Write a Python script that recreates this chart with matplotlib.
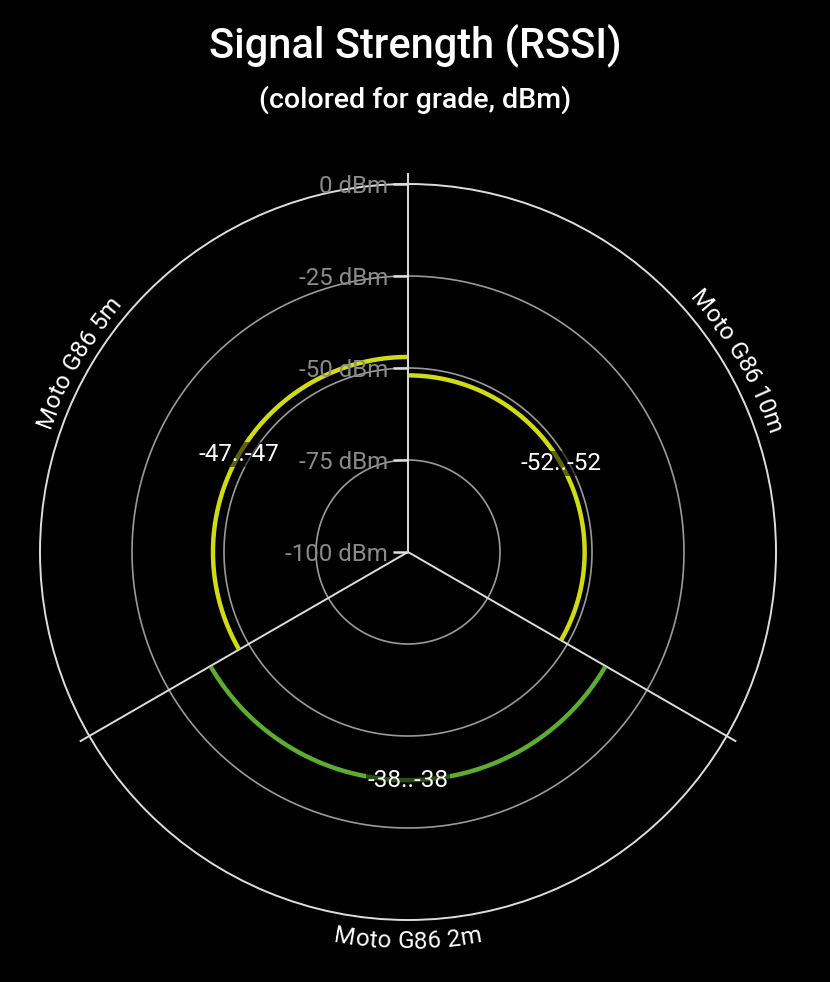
import numpy as np
import matplotlib
matplotlib.use("Agg")
import matplotlib.pyplot as plt
from matplotlib.font_manager import FontProperties
from matplotlib.textpath import text_to_path

# data
devices = ["Moto G86 10m", "Moto G86 2m", "Moto G86 5m"]
rssi_min = [-52, -38, -47]
rssi_max = [-52, -38, -47]
colors = ["#d2db12", "#5cad30", "#d2db12"]
ring_values = [-100, -75, -50, -25, 0]
ring_labels = ["-100 dBm", "-75 dBm", "-50 dBm", "-25 dBm", "0 dBm"]

DPI = 100
R_PX = 368.0  # radius of the 0 dBm circle in pixels

plt.rcParams['font.family'] = ['Roboto', 'DejaVu Sans']

fig = plt.figure(figsize=(8.3, 9.82), dpi=DPI, facecolor='black')
ax = fig.add_axes([40 / 830, (430 - R_PX) / 982, 2 * R_PX / 830, 2 * R_PX / 982],
                  projection='polar', facecolor='black')
ax.set_theta_zero_location('N')
ax.set_theta_direction(-1)
ax.set_ylim(-100, 0)
ax.set_xticks([])
ax.set_yticks([])
ax.grid(False)
ax.spines['polar'].set_color('#dddddd')
ax.spines['polar'].set_linewidth(1.4)


def px_to_r(px):
    return -100 + px / R_PX * 100


# grid rings
th = np.linspace(0, 2 * np.pi, 400)
for v in ring_values[1:-1]:
    ax.plot(th, np.full_like(th, v), color='#9a9a9a', lw=1.2, zorder=1)

# spokes between sectors
n = len(devices)
sector = 2 * np.pi / n
for i in range(n):
    ax.plot([i * sector, i * sector], [-100, px_to_r(378)], color='#dddddd',
            lw=1.4, zorder=2, clip_on=False)

# data arcs + labels
for i in range(n):
    t = np.linspace(i * sector + 0.004, (i + 1) * sector - 0.004, 200)
    ax.plot(t, np.full_like(t, rssi_max[i]), color=colors[i], lw=3.2,
            solid_capstyle='butt', zorder=3)
    mid = (i + 0.5) * sector
    ax.text(mid, rssi_max[i], f"{rssi_min[i]}..{rssi_max[i]}", color='white',
            fontsize=17.5, ha='center', va='center', zorder=5,
            bbox=dict(boxstyle='square,pad=0.05', fc='black', alpha=0.55, ec='none'))

# radial tick labels
for v, lab in zip(ring_values, ring_labels):
    ax.plot([0], [v], marker=0, markersize=11, markeredgewidth=1.8,
            color='#dddddd', zorder=4, clip_on=False)
    ax.annotate(lab, xy=(0, v), xytext=(-20, 0), textcoords='offset pixels',
                color='#8a8a8a', fontsize=17.3, ha='right', va='center_baseline',
                zorder=6, annotation_clip=False)


# category labels bent along the outer circle
def curved_text(text, mid_deg, r_px, outward, size=17.5):
    prop = FontProperties(family='Roboto', size=size)
    widths = []
    for ch in text:
        w, h, d = text_to_path.get_text_width_height_descent(ch, prop, ismath=False)
        widths.append(w * DPI / 72.0)
    total = sum(widths) / r_px
    direction = -1 if outward else 1
    ang = np.radians(mid_deg) - direction * total / 2
    for ch, w in zip(text, widths):
        a = ang + direction * (w / 2) / r_px
        deg = np.degrees(a)
        rot = deg - 90 if outward else deg + 90
        ax.text(np.radians(90 - deg), px_to_r(r_px), ch, color='white',
                fontproperties=prop, rotation=rot, rotation_mode='anchor',
                ha='center', va='center', clip_on=False)
        ang += direction * w / r_px


for i, name in enumerate(devices):
    mid_math = 90 - np.degrees((i + 0.5) * sector)
    mid_math = (mid_math + 360) % 360
    outward = not (180 < mid_math < 360)
    curved_text(name, mid_math, 385 if outward else 390, outward)

fig.text(0.5, 1 - 45 / 982, "Signal Strength (RSSI)", color='white',
         fontsize=30, fontweight='medium', ha='center', va='center')
fig.text(0.5, 1 - 100 / 982, "(colored for grade, dBm)", color='white',
         fontsize=20.5, fontweight='medium', ha='center', va='center')

fig.savefig("out.png", dpi=DPI, facecolor='black')
